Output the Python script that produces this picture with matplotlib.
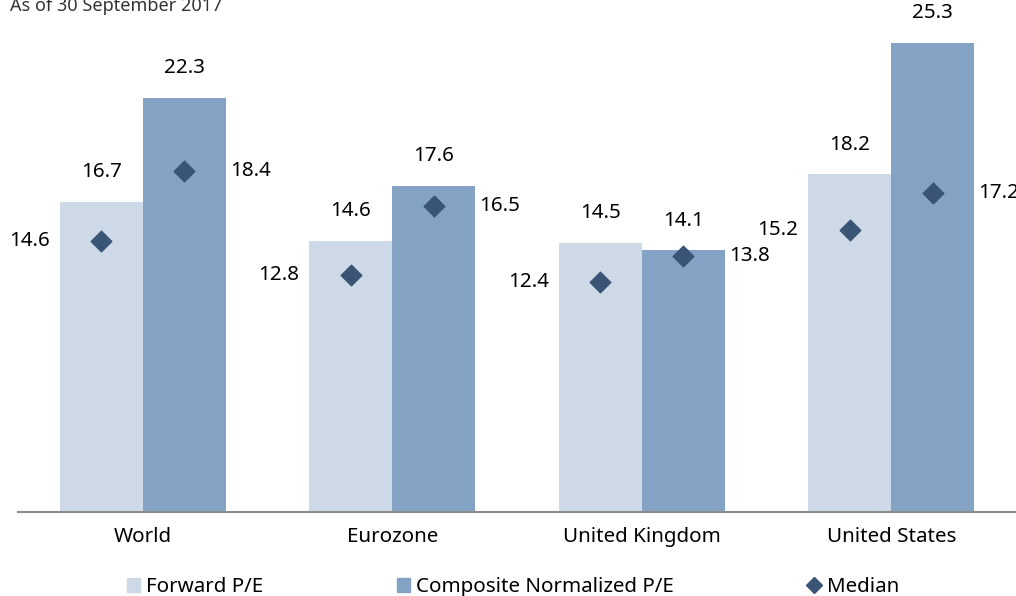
import matplotlib.pyplot as plt
import numpy as np
from matplotlib.patches import Patch
from matplotlib.lines import Line2D

plt.rcParams['font.family'] = ['Noto Sans', 'DejaVu Sans']

# Data
regions = ["World", "Eurozone", "United Kingdom", "United States"]
forward_pe = [16.7, 14.6, 14.5, 18.2]
composite_pe = [22.3, 17.6, 14.1, 25.3]
forward_median = [14.6, 12.8, 12.4, 15.2]
composite_median = [18.4, 16.5, 13.8, 17.2]

light = "#cdd9e6"
mid = "#84a3c4"
dark = "#3a5475"
fs = 14.8

fig = plt.figure(figsize=(10.16, 5.96), dpi=100)
ax = fig.add_axes([18 / 1016, (596 - 512) / 596, 998 / 1016, 512 / 596])

x = np.arange(len(regions))
w = 1 / 3
ax.bar(x - w / 2, forward_pe, w, color=light)
ax.bar(x + w / 2, composite_pe, w, color=mid)
ax.scatter(x - w / 2, forward_median, marker="D", s=110, color=dark, zorder=3)
ax.scatter(x + w / 2, composite_median, marker="D", s=110, color=dark, zorder=3)

# value labels
for xi, v in zip(x - w / 2, forward_pe):
    ax.annotate(f"{v:.1f}", (xi, v), xytext=(0, 21.5), textcoords="offset points",
                ha="center", va="center", fontsize=fs)
for xi, v in zip(x + w / 2, composite_pe):
    ax.annotate(f"{v:.1f}", (xi, v), xytext=(0, 21.5), textcoords="offset points",
                ha="center", va="center", fontsize=fs)
for xi, v in zip(x - w, forward_median):
    ax.annotate(f"{v:.1f}", (xi, v), xytext=(-7, 0), textcoords="offset points",
                ha="right", va="center", fontsize=fs)
for xi, v in zip(x + w, composite_median):
    ax.annotate(f"{v:.1f}", (xi, v), xytext=(3, 0), textcoords="offset points",
                ha="left", va="center", fontsize=fs, annotation_clip=False)

ax.set_xlim(-0.5, 3.5)
ax.set_ylim(0, 512 / 18.55)
ax.set_yticks([])
ax.set_xticks(x)
ax.set_xticklabels(regions, fontsize=fs)
ax.tick_params(axis="x", length=0, pad=11)
for s in ["top", "right", "left"]:
    ax.spines[s].set_visible(False)
ax.spines["bottom"].set_color("#8c8c8c")
ax.spines["bottom"].set_linewidth(1.5)

fig.text(10 / 1016, 1 - 11 / 596, "As of 30 September 2017", fontsize=13,
         color="#333333", va="baseline", ha="left")

handles = [
    Patch(color=light, label="Forward P/E"),
    Patch(color=mid, label="Composite Normalized P/E"),
    Line2D([], [], marker="D", color=dark, linestyle="none", markersize=8, label="Median"),
]
fig.legend(handles=handles, loc="center", bbox_to_anchor=(0.505, 1 - 587 / 596), ncol=3,
           frameon=False, fontsize=fs, handlelength=0.65, handleheight=0.65,
           handletextpad=0.3, columnspacing=6.5, borderaxespad=0, borderpad=0)

fig.savefig("out.png", dpi=100)
